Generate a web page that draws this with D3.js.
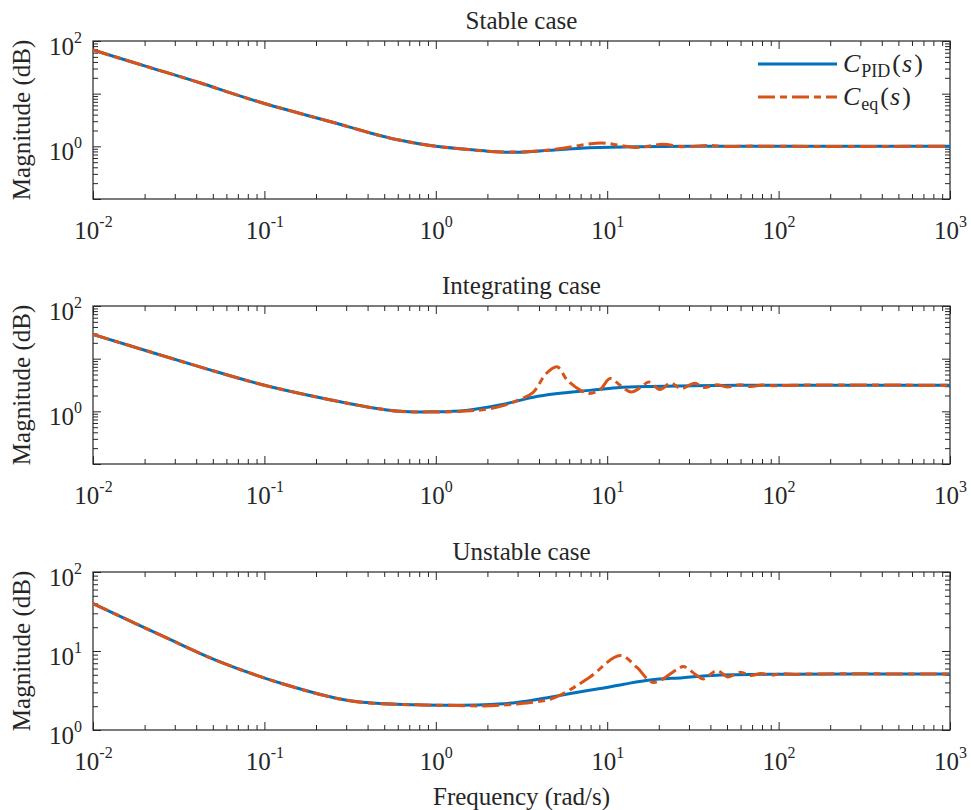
<!DOCTYPE html>
<html>
<head>
<meta charset="utf-8">
<script src="https://cdnjs.cloudflare.com/ajax/libs/d3/7.8.5/d3.min.js"></script>
<style>
body { margin: 0; background: #fff; }
svg text { font-family: "Liberation Serif", "Times New Roman", serif; fill: #262626; }
</style>
</head>
<body>
<svg id="chart" width="971" height="810"></svg>
<script>
// values: frequency (rad/s) and magnitude
var stablePidW   = [0.01, 0.02, 0.042, 0.066, 0.1, 0.16, 0.25, 0.4, 0.6, 1.0, 1.5, 2.0, 3.0, 4.6, 7.0, 9.0, 15, 30, 100, 1000];
var stablePidMag = [67.4, 33.7, 16.1, 9.9, 6.5, 4.25, 2.87, 1.85, 1.33, 1.0, 0.88, 0.81, 0.77, 0.84, 0.92, 0.95, 0.98, 1.0, 1.0, 1.0];
var stableEqW    = [0.01, 0.02, 0.042, 0.066, 0.1, 0.16, 0.25, 0.4, 0.6, 1.0, 1.5, 2.0, 3.0, 4.4, 5.5, 6.9, 9.3, 11.9, 15, 21, 28, 38, 50, 70, 100, 1000];
var stableEqMag  = [67.4, 33.7, 16.1, 9.9, 6.5, 4.25, 2.87, 1.85, 1.33, 1.0, 0.88, 0.81, 0.78, 0.84, 0.92, 1.04, 1.16, 1.04, 0.95, 1.09, 0.98, 1.04, 0.99, 1.01, 1.0, 1.0];

var integPidW    = [0.01, 0.042, 0.1, 0.25, 0.4, 0.62, 0.96, 1.5, 2.4, 3.7, 5.0, 7.9, 11.4, 18, 44, 100, 1000];
var integPidMag  = [28.9, 6.98, 3.13, 1.62, 1.21, 1.0, 0.98, 1.04, 1.33, 1.85, 2.15, 2.5, 2.8, 2.96, 3.1, 3.13, 3.13];
var integEqW     = [0.01, 0.042, 0.1, 0.25, 0.4, 0.62, 0.96, 1.5, 2.0, 2.5, 3.0, 3.7, 4.4, 5.1, 5.85, 7.0, 7.9, 9.1, 10.4, 11.9, 13.8, 15.8, 17.5, 20.3, 23.5, 26.9, 32.5, 36.6, 43.7, 50.5, 59.7, 68.8, 80, 95, 120, 1000];
var integEqMag   = [28.9, 6.98, 3.13, 1.62, 1.21, 1.0, 0.97, 1.01, 1.1, 1.3, 1.62, 2.3, 5.2, 7.0, 3.9, 2.5, 2.17, 2.6, 4.2, 3.13, 2.33, 2.9, 3.6, 2.59, 3.46, 2.7, 3.4, 2.83, 3.2, 2.9, 3.2, 2.95, 3.15, 3.05, 3.13, 3.13];

var unstPidW     = [0.01, 0.0281, 0.0528, 0.129, 0.316, 0.774, 1.21, 1.89, 2.97, 4.64, 6.1, 9.1, 12.5, 17.8, 27.6, 43.7, 100, 1000];
var unstPidMag   = [39.9, 14.0, 7.57, 3.82, 2.34, 2.08, 2.06, 2.09, 2.23, 2.6, 2.9, 3.35, 3.8, 4.3, 4.6, 4.93, 5.08, 5.1];
var unstEqW      = [0.01, 0.0281, 0.0528, 0.129, 0.316, 0.774, 1.21, 1.89, 2.97, 4.64, 5.5, 7.9, 11.9, 14.9, 18.5, 25.7, 27.9, 33.4, 36.4, 43.7, 50.5, 59.7, 68.8, 79, 89, 105, 125, 150, 1000];
var unstEqMag    = [39.9, 14.0, 7.57, 3.82, 2.34, 2.08, 2.05, 2.02, 2.14, 2.45, 2.86, 4.66, 8.77, 6.2, 4.0, 5.9, 6.35, 4.9, 4.43, 5.65, 4.7, 5.37, 4.9, 5.2, 4.95, 5.15, 5.05, 5.12, 5.1];

var titles = ["Stable case", "Integrating case", "Unstable case"];
var yDomains = [[0.1, 100], [0.1, 100], [1, 100]];
var yLabelVals = [[1, 100], [1, 100], [1, 10, 100]];
var xDomain = [1e-2, 1e3];

var blue = "#0072BD", orange = "#D95319", axisCol = "#262626";
var left = 93, right = 950;
var panelTops = [41, 306, 572], panelH = 158;

var svg = d3.select("#chart");
var x = d3.scaleLog().domain(xDomain).range([left, right]);

function decades(a, b) { var r = []; for (var e = a; e <= b; e++) r.push(Math.pow(10, e)); return r; }
function minors(a, b) { var r = []; for (var e = a; e < b; e++) for (var m = 2; m <= 9; m++) r.push(m * Math.pow(10, e)); return r; }
function pow10(t, v) {
    var e = Math.round(Math.log10(v));
    t.text(null);
    t.append("tspan").text("10");
    t.append("tspan").attr("dy", -12).attr("font-size", 16).text(e);
}

var xMajor = decades(-2, 3), xMinor = minors(-2, 3);

var series = [
    [[stablePidW, stablePidMag], [stableEqW, stableEqMag]],
    [[integPidW, integPidMag], [integEqW, integEqMag]],
    [[unstPidW, unstPidMag], [unstEqW, unstEqMag]]
];

titles.forEach(function (title, i) {
    var top = panelTops[i], bottom = top + panelH;
    var y = d3.scaleLog().domain(yDomains[i]).range([bottom, top]);
    var lo = Math.round(Math.log10(yDomains[i][0])), hi = Math.round(Math.log10(yDomains[i][1]));
    var yMajor = decades(lo, hi), yMinor = minors(lo, hi);
    var g = svg.append("g");

    // ticks, inward on all four sides
    var axes = [
        [d3.axisBottom(x), "translate(0," + bottom + ")", xMajor, xMinor],
        [d3.axisTop(x), "translate(0," + top + ")", xMajor, xMinor],
        [d3.axisLeft(y), "translate(" + left + ",0)", yMajor, yMinor],
        [d3.axisRight(y), "translate(" + right + ",0)", yMajor, yMinor]
    ];
    axes.forEach(function (a) {
        var minorG = g.append("g").attr("transform", a[1])
            .call(a[0].tickValues(a[3]).tickSize(-5).tickSizeOuter(0).tickFormat(""));
        minorG.select(".domain").remove();
        var majG = g.append("g").attr("transform", a[1])
            .call(a[0].tickValues(a[2]).tickSize(-8).tickSizeOuter(0).tickFormat(""));
        majG.select(".domain").remove();
        majG.selectAll("text").remove();
    });
    g.selectAll(".tick line").attr("stroke", axisCol);

    // x tick labels
    var xl = g.append("g").attr("transform", "translate(0," + bottom + ")")
        .call(d3.axisBottom(x).tickValues(xMajor).tickSize(0).tickFormat(""))
        .attr("font-family", null).attr("font-size", 25);
    xl.select(".domain").remove();
    xl.selectAll(".tick text").attr("y", 40).attr("dy", null).each(function (d) { pow10(d3.select(this), d); });

    // y tick labels
    var yl = g.append("g").attr("transform", "translate(" + left + ",0)")
        .call(d3.axisLeft(y).tickValues(yLabelVals[i]).tickSize(0).tickFormat(""))
        .attr("font-family", null).attr("font-size", 25);
    yl.select(".domain").remove();
    yl.selectAll(".tick text").attr("x", -11).attr("dy", null).attr("y", 13).each(function (d) { pow10(d3.select(this), d); });

    // box
    g.append("rect").attr("x", left).attr("y", top).attr("width", right - left).attr("height", bottom - top)
        .attr("fill", "none").attr("stroke", axisCol).attr("stroke-width", 1.2);

    // curves
    g.append("clipPath").attr("id", "clip" + i).append("rect")
        .attr("x", left).attr("y", top).attr("width", right - left).attr("height", bottom - top);
    var line = d3.line().x(function (d) { return x(d[0]); }).y(function (d) { return y(d[1]); })
        .curve(d3.curveCatmullRom.alpha(0.5));
    var pid = d3.zip(series[i][0][0], series[i][0][1]);
    var eq = d3.zip(series[i][1][0], series[i][1][1]);
    var lines = g.append("g").attr("clip-path", "url(#clip" + i + ")");
    lines.append("path").datum(pid).attr("d", line).attr("fill", "none")
        .attr("stroke", blue).attr("stroke-width", 3);
    lines.append("path").datum(eq).attr("d", line).attr("fill", "none")
        .attr("stroke", orange).attr("stroke-width", 3).attr("stroke-dasharray", "17,5,7,5");

    // title and y label
    g.append("text").attr("x", (left + right) / 2).attr("y", top - 12).attr("text-anchor", "middle")
        .attr("font-size", 25).text(title);
    g.append("text").attr("transform", "translate(30," + (top + bottom) / 2 + ") rotate(-90)")
        .attr("text-anchor", "middle").attr("font-size", 25).text("Magnitude (dB)");
});

svg.append("text").attr("x", (left + right) / 2).attr("y", 805).attr("text-anchor", "middle")
    .attr("font-size", 25).text("Frequency (rad/s)");

// legend
var legend = svg.append("g");
var legItems = [
    { y: 64, color: blue, dash: null, sub: "PID" },
    { y: 97, color: orange, dash: "17,5,7,5", sub: "eq" }
];
legItems.forEach(function (it) {
    legend.append("line").attr("x1", 758).attr("x2", 837).attr("y1", it.y).attr("y2", it.y)
        .attr("stroke", it.color).attr("stroke-width", 3).attr("stroke-dasharray", it.dash);
    var t = legend.append("text").attr("x", 843).attr("y", it.y + 8).attr("font-size", 26);
    t.append("tspan").attr("font-style", "italic").text("C");
    t.append("tspan").attr("font-size", 18).attr("dy", 5).attr("dx", 1).text(it.sub);
    t.append("tspan").attr("dy", -5).attr("dx", 2).text("(");
    t.append("tspan").attr("font-style", "italic").attr("dx", 1).text("s");
    t.append("tspan").attr("dx", 2).text(")");
});
</script>
</body>
</html>
